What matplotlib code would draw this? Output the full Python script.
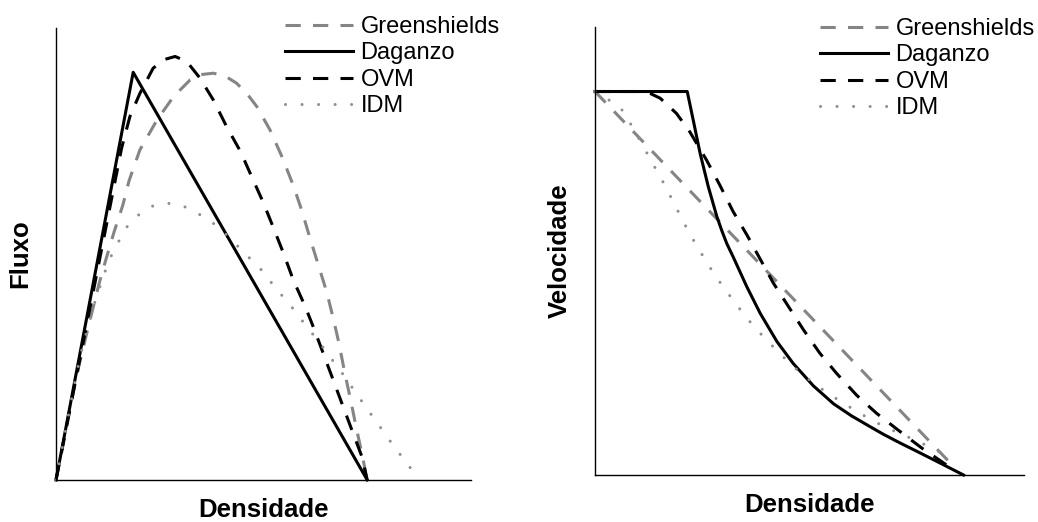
import matplotlib
matplotlib.use('Agg')
import matplotlib.pyplot as plt

plt.rcParams['font.family'] = ['Liberation Sans', 'DejaVu Sans']

# ---- 1. Data (density / flow / speed, arbitrary 0-100 scale) ----
# left panel: fluxo x densidade
dag_k = [0, 18.6, 75.0]
dag_q = [0, 90.2, 0]

ovm_k = [0, 15.8, 17.8, 20.2, 23.4, 26.0, 28.7, 31.5, 34.7, 37.9, 41.1, 44.5, 47.3, 49.8, 52.4,
         54.8, 57.2, 60.0, 62.2, 64.4, 66.8, 69.2, 71.6, 73.7, 75.0]
ovm_q = [0, 73.4, 80.4, 85.5, 91.1, 93.0, 93.7, 92.6, 88.9, 84.1, 78.2, 72.6, 66.8, 61.7, 55.8,
         50.2, 44.2, 38.5, 33.4, 28.0, 22.1, 16.2, 10.3, 5.2, 0]

gs_k = [0, 4.8, 7.6, 10.4, 12.0, 14.0, 16.1, 17.6, 20.2, 24.3, 28.3, 32.3, 35.0, 37.9, 40.7, 43.5,
        46.0, 48.4, 51.6, 54.6, 57.2, 59.2, 61.2, 63.2, 65.2, 66.8, 68.2, 69.6, 71.0, 72.3, 73.7, 74.5, 74.9]
gs_q = [0, 22.5, 33.2, 43.5, 48.7, 54.9, 60.8, 66.2, 73.0, 79.6, 84.8, 88.5, 89.7, 90.0, 89.4, 87.8,
        85.5, 82.6, 77.4, 71.2, 65.1, 59.7, 53.5, 47.6, 41.7, 35.8, 30.2, 23.6, 17.7, 11.8, 5.9, 2.2, 0]

idm_k = [0, 4.8, 6.4, 9.5, 12.0, 13.5, 15.3, 17.3, 20.1, 23.3, 27.3, 30.9, 34.5, 37.9, 40.7, 43.5,
         46.3, 49.2, 51.6, 54.1, 56.7, 59.1, 61.5, 63.9, 66.3, 68.6, 70.8, 73.1, 75.3, 77.6, 79.9,
         82.2, 84.6, 86.9]
idm_q = [0, 22.9, 29.5, 39.8, 46.6, 50.0, 53.1, 56.3, 58.8, 60.6, 61.2, 60.5, 58.8, 56.8, 54.6, 52.0,
         49.4, 46.8, 44.0, 41.2, 38.4, 35.5, 32.7, 29.9, 26.9, 24.1, 21.2, 18.2, 15.3, 12.4, 9.4,
         6.5, 3.7, 0.7]

# right panel: velocidade x densidade
dag_k2 = [0, 21.5, 22.9, 24.5, 26.4, 28.4, 29.5, 30.7, 32.2, 35.4, 38.5, 42.4, 46.2, 50.9, 55.6,
          59.8, 64.1, 67.2, 71.0, 75.0, 81.2, 85.9]
dag_v2 = [85.6, 85.6, 79.2, 71.8, 64.4, 57.7, 54.7, 51.7, 48.7, 42.0, 36.1, 29.8, 24.9, 19.9, 15.9,
          13.2, 10.8, 9.1, 7.2, 5.3, 2.3, 0]

ovm_k2 = [0, 10.0, 12.8, 15.2, 19.0, 22.1, 26.0, 29.1, 32.2, 35.4, 38.5, 41.6, 45.1, 48.6, 52.4,
          56.3, 61.0, 65.6, 71.1, 76.2, 82.0, 82.8]
ovm_v2 = [85.6, 85.6, 85.2, 84.1, 80.7, 76.6, 70.3, 64.7, 58.8, 53.6, 48.2, 42.8, 37.6, 32.4, 27.2,
          22.7, 17.8, 13.8, 9.7, 6.0, 2.2, 1.9]

gs_k2 = [0, 83.5]
gs_v2 = [85.6, 2.0]

idm_k2 = [0, 5.8, 7.8, 11.3, 13.2, 15.2, 16.9, 18.6, 20.4, 22.1, 24.1, 26.0, 28.0, 30.3, 32.5, 34.8,
          37.3, 39.8, 42.5, 45.1, 48.0, 51.0, 54.0, 57.3, 60.5, 63.7, 67.2, 70.7, 74.1, 77.5, 81.0, 83.0]
idm_v2 = [85.6, 82.2, 79.2, 73.3, 69.9, 66.6, 63.5, 60.3, 56.9, 53.8, 50.6, 47.5, 44.6, 41.4, 38.7, 35.7,
          32.9, 30.3, 27.7, 25.2, 22.7, 20.5, 18.4, 16.4, 14.5, 12.7, 10.9, 9.4, 8.0, 6.5, 4.8, 3.0]

labels = ['Greenshields', 'Daganzo', 'OVM', 'IDM']

# ---- 2. Styles ----
LW = 2.2
gs_style  = dict(color='#858585', lw=LW, dashes=(5, 4))
dag_style = dict(color='black', lw=LW)
ovm_style = dict(color='black', lw=LW, dashes=(5, 4))
idm_style = dict(color='#8f8f8f', lw=LW, dashes=(0.01, 5.4), dash_capstyle='round')

fig = plt.figure(figsize=(10.38, 5.22), dpi=100)
ax1 = fig.add_axes([56/1038, 42/522, 415/1038, 452/522])
ax2 = fig.add_axes([595/1038, 47/522, 429/1038, 448/522])


def draw(ax, curves, ylabel, leg_x, leg_y):
    for (k, v), st, lab in zip(curves, [gs_style, dag_style, ovm_style, idm_style], labels):
        ax.plot(k, v, label=lab, clip_on=False, **st)
    ax.set_xlim(0, 100)
    ax.set_ylim(0, 100)
    ax.set_xticks([])
    ax.set_yticks([])
    for s in ['top', 'right']:
        ax.spines[s].set_visible(False)
    for s in ['left', 'bottom']:
        ax.spines[s].set_linewidth(1.0)
    ax.set_xlabel('Densidade', fontsize=18.5, fontweight='bold', labelpad=13)
    ax.set_ylabel(ylabel, fontsize=18.5, fontweight='bold', labelpad=17)
    # legend sits in figure coords, top right of each panel
    ax.legend(loc='upper left', bbox_to_anchor=(leg_x/1038, 1 - leg_y/522),
              bbox_transform=fig.transFigure, frameon=False, fontsize=17,
              borderpad=0, borderaxespad=0, handlelength=2.9, handletextpad=0.3,
              labelspacing=0.19)


draw(ax1, [(gs_k, gs_q), (dag_k, dag_q), (ovm_k, ovm_q), (idm_k, idm_q)], 'Fluxo', 285, 16)
draw(ax2, [(gs_k2, gs_v2), (dag_k2, dag_v2), (ovm_k2, ovm_v2), (idm_k2, idm_v2)], 'Velocidade', 820, 18)

plt.savefig('out.png', dpi=100)
